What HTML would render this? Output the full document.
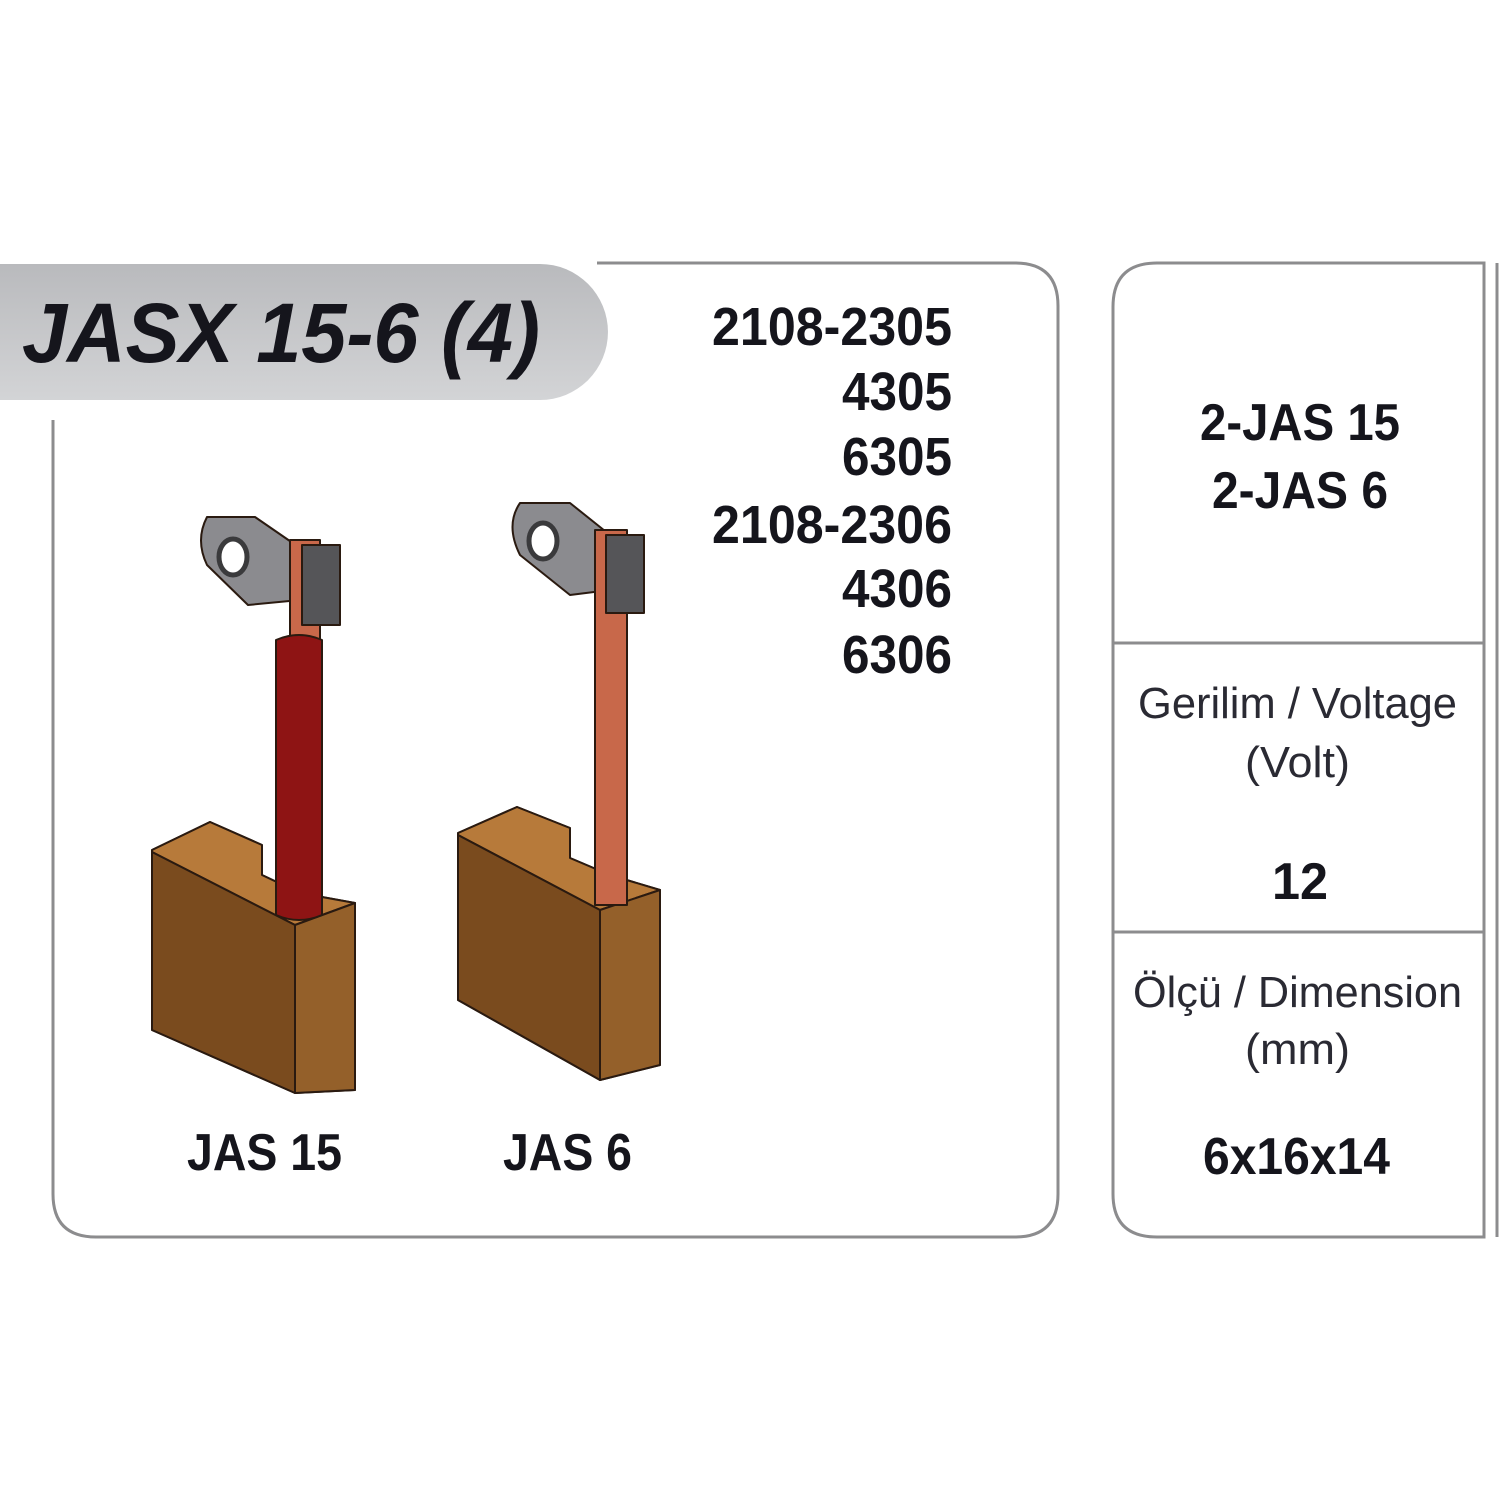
<!DOCTYPE html>
<html><head><meta charset="utf-8"><style>
html,body{margin:0;padding:0;background:#fff;width:1500px;height:1500px;overflow:hidden}
text{font-family:"Liberation Sans Narrow","Liberation Sans",sans-serif;font-weight:bold;fill:#15151c}
</style></head><body>
<svg width="1500" height="1500" viewBox="0 0 1500 1500" xmlns="http://www.w3.org/2000/svg">
<defs>
<linearGradient id="pill" x1="0" y1="0" x2="0" y2="1"><stop offset="0" stop-color="#b9babd"/><stop offset="1" stop-color="#d3d4d6"/></linearGradient>
</defs>
<path d="M597 263 H1015 Q1058 263 1058 306 V1194 Q1058 1237 1015 1237 H96 Q53 1237 53 1194 V420" fill="none" stroke="#8c8c8e" stroke-width="3"/>
<path d="M0 264 H540 A68 68 0 0 1 540 400 H0 Z" fill="url(#pill)"/>
<text x="22" y="362" font-size="84" font-style="italic" textLength="518" lengthAdjust="spacingAndGlyphs">JASX 15-6 (4)</text>
<g font-size="54">
<text x="712" y="345" textLength="240" lengthAdjust="spacingAndGlyphs">2108-2305</text>
<text x="842" y="410" textLength="110" lengthAdjust="spacingAndGlyphs">4305</text>
<text x="842" y="475" textLength="110" lengthAdjust="spacingAndGlyphs">6305</text>
<text x="712" y="543" textLength="240" lengthAdjust="spacingAndGlyphs">2108-2306</text>
<text x="842" y="607" textLength="110" lengthAdjust="spacingAndGlyphs">4306</text>
<text x="842" y="673" textLength="110" lengthAdjust="spacingAndGlyphs">6306</text>
</g>
<path d="M1484 263 H1157 Q1113 263 1113 307 V1194 Q1113 1237 1157 1237 H1484 Z" fill="none" stroke="#8c8c8e" stroke-width="3"/>
<line x1="1497" y1="263" x2="1497" y2="1237" stroke="#8c8c8e" stroke-width="3"/>
<line x1="1113" y1="643" x2="1484" y2="643" stroke="#8c8c8e" stroke-width="3"/>
<line x1="1113" y1="932" x2="1484" y2="932" stroke="#8c8c8e" stroke-width="3"/>
<text x="1200" y="440" font-size="52" textLength="200" lengthAdjust="spacingAndGlyphs">2-JAS 15</text>
<text x="1212" y="508" font-size="52" textLength="176" lengthAdjust="spacingAndGlyphs">2-JAS 6</text>
<text x="1138" y="718" font-size="44" style="font-weight:normal;fill:#2a2a33" textLength="319" lengthAdjust="spacingAndGlyphs">Gerilim / Voltage</text>
<text x="1245" y="777" font-size="44" style="font-weight:normal;fill:#2a2a33" textLength="105" lengthAdjust="spacingAndGlyphs">(Volt)</text>
<text x="1272" y="899" font-size="52" textLength="56" lengthAdjust="spacingAndGlyphs">12</text>
<text x="1133" y="1007" font-size="44" style="font-weight:normal;fill:#2a2a33" textLength="329" lengthAdjust="spacingAndGlyphs">Ölçü / Dimension</text>
<text x="1245" y="1064" font-size="44" style="font-weight:normal;fill:#2a2a33" textLength="105" lengthAdjust="spacingAndGlyphs">(mm)</text>
<text x="1203" y="1174" font-size="52" textLength="187" lengthAdjust="spacingAndGlyphs">6x16x14</text>
<text x="187" y="1170" font-size="52" textLength="155" lengthAdjust="spacingAndGlyphs">JAS 15</text>
<text x="503" y="1170" font-size="52" textLength="129" lengthAdjust="spacingAndGlyphs">JAS 6</text>

<g stroke="#2a1a10" stroke-width="2" stroke-linejoin="round">
<path d="M152 850 L210 822 L262 845 L262 875 L300 893 L355 903 L355 1090 L295 1093 L152 1030 Z" fill="#7a4a1c"/>
<path d="M152 850 L210 822 L262 845 L262 875 L300 893 L355 903 L295 925 L152 852 Z" fill="#b77a3a"/>
<path d="M295 925 L355 903 L355 1090 L295 1093 Z" fill="#94602a"/>
<path d="M152 852 L295 925 L295 1093 L152 1030 Z" fill="#7a4b1e"/>
<path d="M207 517 L255 517 L300 548 L300 600 L248 605 L207 565 Q195 540 207 517 Z" fill="#8b8b8f"/>
<ellipse cx="233" cy="557" rx="14" ry="18" fill="#fff" stroke-width="5" stroke="#3a3a3c"/>
<rect x="290" y="540" width="30" height="130" fill="#c9684a"/>
<rect x="302" y="545" width="38" height="80" fill="#555558"/>
<path d="M276 640 Q299 630 322 640 V915 Q299 925 276 915 Z" fill="#8e1414"/>
</g>
<g stroke="#2a1a10" stroke-width="2" stroke-linejoin="round">
<path d="M458 833 L517 807 L570 828 L570 858 L610 875 L660 890 L660 1065 L600 1080 L458 1000 Z" fill="#7a4a1c"/>
<path d="M458 833 L517 807 L570 828 L570 858 L610 875 L660 890 L600 910 L458 835 Z" fill="#b77a3a"/>
<path d="M600 910 L660 890 L660 1065 L600 1080 Z" fill="#94602a"/>
<path d="M458 835 L600 910 L600 1080 L458 1000 Z" fill="#7a4b1e"/>
<path d="M520 503 L570 503 L610 535 L610 590 L570 595 L520 555 Q505 525 520 503 Z" fill="#8b8b8f"/>
<ellipse cx="543" cy="541" rx="14" ry="18" fill="#fff" stroke-width="5" stroke="#3a3a3c"/>
<rect x="595" y="530" width="32" height="375" fill="#c8684a"/>
<rect x="606" y="535" width="38" height="78" fill="#555558"/>
</g>
</svg>
</body></html>
